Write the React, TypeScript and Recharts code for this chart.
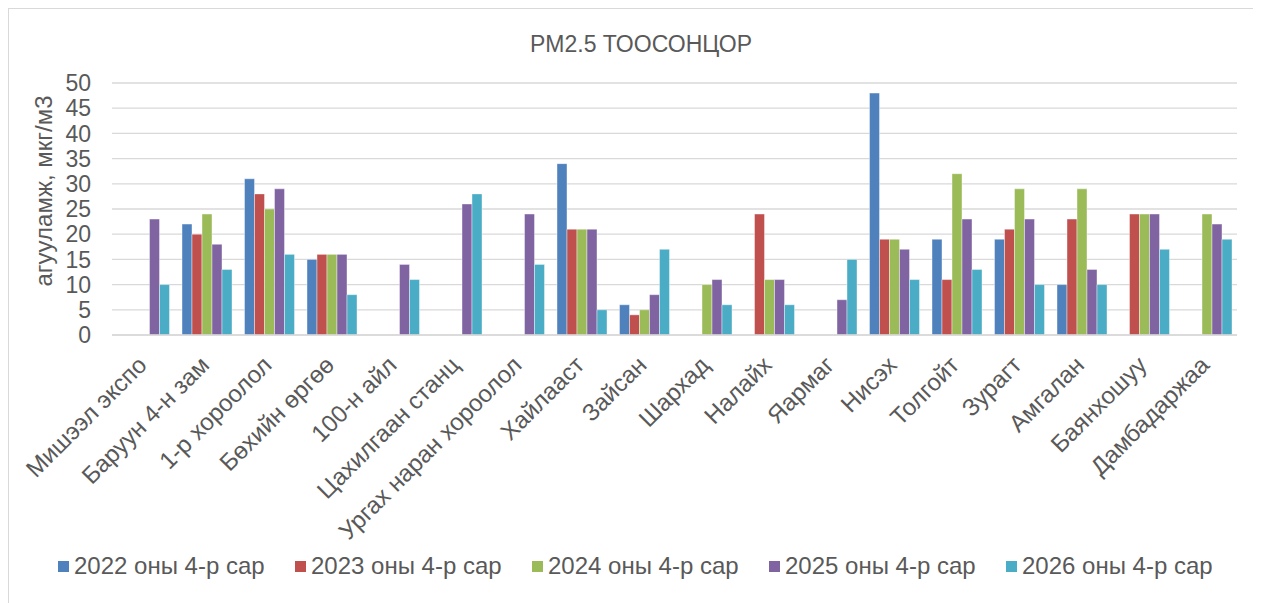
import React from 'react';
import { BarChart, Bar, XAxis, YAxis, CartesianGrid, Label } from 'recharts';

const stations = [
  'Мишээл экспо', 'Баруун 4-н зам', '1-р хороолол', 'Бөхийн өргөө', '100-н айл',
  'Цахилгаан станц', 'Ургах наран хороолол', 'Хайлааст', 'Зайсан', 'Шархад',
  'Налайх', 'Яармаг', 'Нисэх', 'Толгойт', 'Зурагт', 'Амгалан', 'Баянхошуу', 'Дамбадаржаа',
];

const y2022 = [null, 22, 31, 15, null, null, null, 34, 6, null, null, null, 48, 19, 19, 10, null, null];
const y2023 = [null, 20, 28, 16, null, null, null, 21, 4, null, 24, null, 19, 11, 21, 23, 24, null];
const y2024 = [null, 24, 25, 16, null, null, null, 21, 5, 10, 11, null, 19, 32, 29, 29, 24, 24];
const y2025 = [23, 18, 29, 16, 14, 26, 24, 21, 8, 11, 11, 7, 17, 23, 23, 13, 24, 22];
const y2026 = [10, 13, 16, 8, 11, 28, 14, 5, 17, 6, 6, 15, 11, 13, 10, 10, 17, 19];

const yTicks = [0, 5, 10, 15, 20, 25, 30, 35, 40, 45, 50];

const series = [
  { key: 'y2022', name: '2022 оны 4-р сар', color: '#4F81BD' },
  { key: 'y2023', name: '2023 оны 4-р сар', color: '#C0504D' },
  { key: 'y2024', name: '2024 оны 4-р сар', color: '#9BBB59' },
  { key: 'y2025', name: '2025 оны 4-р сар', color: '#8064A2' },
  { key: 'y2026', name: '2026 оны 4-р сар', color: '#4BACC6' },
];

const data = stations.map((name, i) => ({
  name,
  y2022: y2022[i],
  y2023: y2023[i],
  y2024: y2024[i],
  y2025: y2025[i],
  y2026: y2026[i],
}));

const FONT = '"Liberation Sans", Arial, sans-serif';
const TEXT = '#595959';

const StationTick = (props: any) => {
  const { x, y, payload } = props;
  return (
    <g transform={`translate(${x - 5},${y + 8})`}>
      <text
        x={-4}
        y={0}
        dy={18}
        textAnchor="end"
        fill={TEXT}
        fontSize={24}
        fontFamily={FONT}
        transform="rotate(-45)"
      >
        {payload.value}
      </text>
    </g>
  );
};

const YTitle = (props: any) => {
  const { viewBox } = props;
  const cx = 34;
  const cy = viewBox.y + viewBox.height / 2 - 18;
  return (
    <text
      x={cx}
      y={cy}
      textAnchor="middle"
      dominantBaseline="central"
      fill={TEXT}
      fontSize={24}
      fontFamily={FONT}
      transform={`rotate(-90, ${cx}, ${cy})`}
    >
      агууламж, мкг/м3
    </text>
  );
};

export default function App() {
  return (
    <div
      style={{
        position: 'relative',
        width: 1246,
        height: 600,
        border: '1px solid #d9d9d9',
        background: '#fff',
        fontFamily: FONT,
      }}
    >
      <div
        style={{
          position: 'absolute',
          top: 22,
          left: 9,
          width: 1246,
          textAlign: 'center',
          fontSize: 23,
          color: TEXT,
        }}
      >
        PM2.5 ТООСОНЦОР
      </div>
      <BarChart
        width={1246}
        height={595}
        data={data}
        margin={{ top: 74, right: 18, bottom: 69, left: 0 }}
        barCategoryGap="12%"
        barGap={0}
      >
        <CartesianGrid vertical={false} stroke="#d9d9d9" strokeWidth={1.3} />
        <XAxis
          dataKey="name"
          interval={0}
          height={200}
          tickLine={false}
          axisLine={{ stroke: '#d9d9d9', strokeWidth: 1.3 }}
          tick={<StationTick />}
        />
        <YAxis
          width={103}
          domain={[0, 50]}
          ticks={yTicks}
          interval={0}
          tickLine={false}
          axisLine={false}
          tickSize={0}
          tickMargin={21}
          tick={{ fill: TEXT, fontSize: 23, fontFamily: FONT }}
        >
          <Label content={<YTitle />} />
        </YAxis>
        {series.map((s) => (
          <Bar
            key={s.key}
            dataKey={s.key}
            name={s.name}
            fill={s.color}
            stroke="#ffffff"
            strokeOpacity={0.5}
            strokeWidth={0.8}
            isAnimationActive={false}
          />
        ))}
      </BarChart>
      <div
        style={{
          position: 'absolute',
          top: 543,
          left: 49,
          display: 'flex',
        }}
      >
        {series.map((s) => (
          <div
            key={s.key}
            style={{
              width: 237,
              display: 'flex',
              alignItems: 'center',
              fontSize: 24,
              color: TEXT,
              whiteSpace: 'nowrap',
            }}
          >
            <span
              style={{
                display: 'inline-block',
                width: 11,
                height: 11,
                background: s.color,
                marginRight: 5,
              }}
            />
            {s.name}
          </div>
        ))}
      </div>
    </div>
  );
}
